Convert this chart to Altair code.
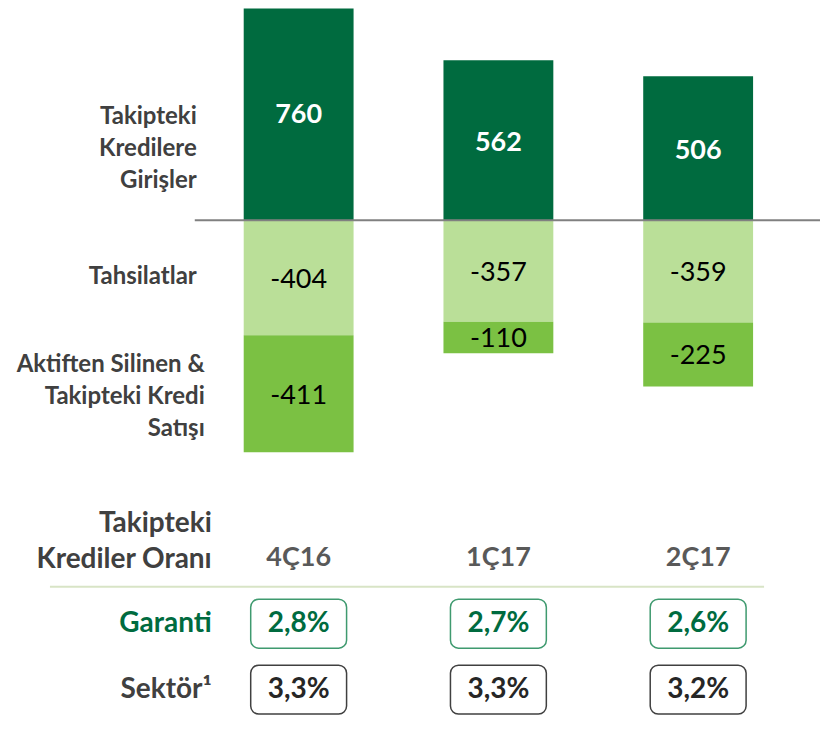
import altair as alt
import pandas as pd

periods = ["4Ç16", "1Ç17", "2Ç17"]
girisler = [760, 562, 506]
tahsilat = [-404, -357, -359]
aktiften = [-411, -110, -225]
garanti = ["2,8%", "2,7%", "2,6%"]
sektor = ["3,3%", "3,3%", "3,2%"]
series_names = ["Girişler", "Tahsilatlar", "Aktiften"]
series_colors = ["#006b3f", "#badf98", "#7bc143"]
left_labels = ["Takipteki\nKredilere\nGirişler", "Tahsilatlar", "Aktiften Silinen &\nTakipteki Kredi\nSatışı"]
left_label_y = [117, 277, 365]
left_label_x = [189, 189, 197]

FONT = "Lato"

rows = []
for i, p in enumerate(periods):
    rows.append(dict(period=p, series=series_names[0], y0=0, y1=girisler[i], label=str(girisler[i])))
    rows.append(dict(period=p, series=series_names[1], y0=0, y1=tahsilat[i], label=str(tahsilat[i])))
    rows.append(dict(period=p, series=series_names[2], y0=tahsilat[i], y1=tahsilat[i] + aktiften[i], label=str(aktiften[i])))
bars = pd.DataFrame(rows)
bars["mid"] = (bars["y0"] + bars["y1"]) / 2

xscale = alt.Scale(domain=periods, range=[191, 791], paddingInner=0.45, paddingOuter=0.225)
yscale = alt.Scale(domain=[-870, 744], nice=False, zero=False)

base = alt.Chart(bars).encode(
    x=alt.X("period:N", scale=xscale, axis=None, sort=periods)
)
bar_layer = base.mark_bar(clip=True).encode(
    y=alt.Y("y0:Q", scale=yscale, axis=None),
    y2="y1:Q",
    color=alt.Color("series:N", scale=alt.Scale(domain=series_names, range=series_colors), legend=None),
)
pos_text = base.transform_filter(alt.datum.series == "Girişler").mark_text(
    font=FONT, fontSize=27, fontWeight="bold", color="white", baseline="middle", dy=3
).encode(y=alt.Y("mid:Q", scale=yscale), text="label:N")
neg_text = base.transform_filter(alt.datum.series != "Girişler").mark_text(
    font=FONT, fontSize=27, color="black", baseline="middle", dy=2
).encode(y=alt.Y("mid:Q", scale=yscale), text="label:N")

baseline = alt.Chart(pd.DataFrame({"v": [0]})).mark_rule(color="#808080", strokeWidth=2).encode(
    y=alt.Y("v:Q", scale=yscale), x=alt.value(187), x2=alt.value(813)
)

lab_df = pd.DataFrame({"t": left_labels,
                       "py": [v - 8 for v in left_label_y],
                       "px": left_label_x})
lab_layer = alt.Chart(lab_df).mark_text(
    font=FONT, fontSize=24, fontWeight="bold", color="#404040", align="right",
    baseline="middle", lineBreak="\n", lineHeight=32
).encode(x=alt.X("px:Q", scale=None), y=alt.Y("py:Q", scale=None), text="t:N")

top = alt.layer(bar_layer, pos_text, neg_text, baseline, lab_layer).properties(width=813, height=460)

# table
rowdom = ["h", "g", "s"]
rscale = alt.Scale(type="point", domain=rowdom, range=[90, 222], padding=0)
tab_rows = []
for i, p in enumerate(periods):
    tab_rows.append(dict(period=p, row="g", t=garanti[i], stroke="#3f9a6f", fill="#006b3f"))
    tab_rows.append(dict(period=p, row="s", t=sektor[i], stroke="#404040", fill="#262626"))
tab = pd.DataFrame(tab_rows)

tb = alt.Chart(tab).encode(
    x=alt.X("period:N", scale=xscale, axis=None, sort=periods),
    y=alt.Y("row:N", scale=rscale, axis=None, sort=rowdom),
)
boxes = tb.mark_rect(width=96, height=49, cornerRadius=8, fill="white", strokeWidth=1.5).encode(
    stroke=alt.Stroke("stroke:N", scale=None)
)
box_text = tb.mark_text(font=FONT, fontSize=28, fontWeight="bold", baseline="middle").encode(
    text="t:N",
    color=alt.Color("fill:N", scale=None),
)

hdr = alt.Chart(pd.DataFrame({"period": periods, "row": ["h"] * 3})).mark_text(
    font=FONT, fontSize=27, fontWeight="bold", color="#595959", baseline="middle"
).encode(
    x=alt.X("period:N", scale=xscale, axis=None, sort=periods),
    y=alt.Y("row:N", scale=rscale, axis=None, sort=rowdom),
    text="period:N",
)

row_labels = pd.DataFrame({
    "row": ["g", "s"],
    "t": ["Garanti", "Sektör¹"],
    "c": ["#006b3f", "#404040"],
})
rl = alt.Chart(row_labels).mark_text(
    font=FONT, fontSize=28, fontWeight="bold", align="right", baseline="middle"
).encode(
    x=alt.value(204),
    y=alt.Y("row:N", scale=rscale, axis=None, sort=rowdom),
    text="t:N",
    color=alt.Color("c:N", scale=None),
)
hl = alt.Chart(pd.DataFrame({"row": ["h"], "t": ["Takipteki\nKrediler Oranı"]})).mark_text(
    font=FONT, fontSize=28, fontWeight="bold", align="right", baseline="middle",
    lineBreak="\n", lineHeight=36, dy=-34, color="#404040"
).encode(
    x=alt.value(204),
    y=alt.Y("row:N", scale=rscale, axis=None, sort=rowdom),
    text="t:N",
)

sep = alt.Chart(pd.DataFrame({"a": [1]})).mark_rule(color="#d8e4c6", strokeWidth=2).encode(
    x=alt.value(42), x2=alt.value(757), y=alt.value(119)
)

bottom = alt.layer(sep, boxes, box_text, hdr, rl, hl).properties(width=813, height=257)

chart = alt.vconcat(top, bottom, spacing=0).properties(padding=0).configure_view(stroke=None)
chart.save("out.html", embed_options={"renderer": "svg", "actions": False})
